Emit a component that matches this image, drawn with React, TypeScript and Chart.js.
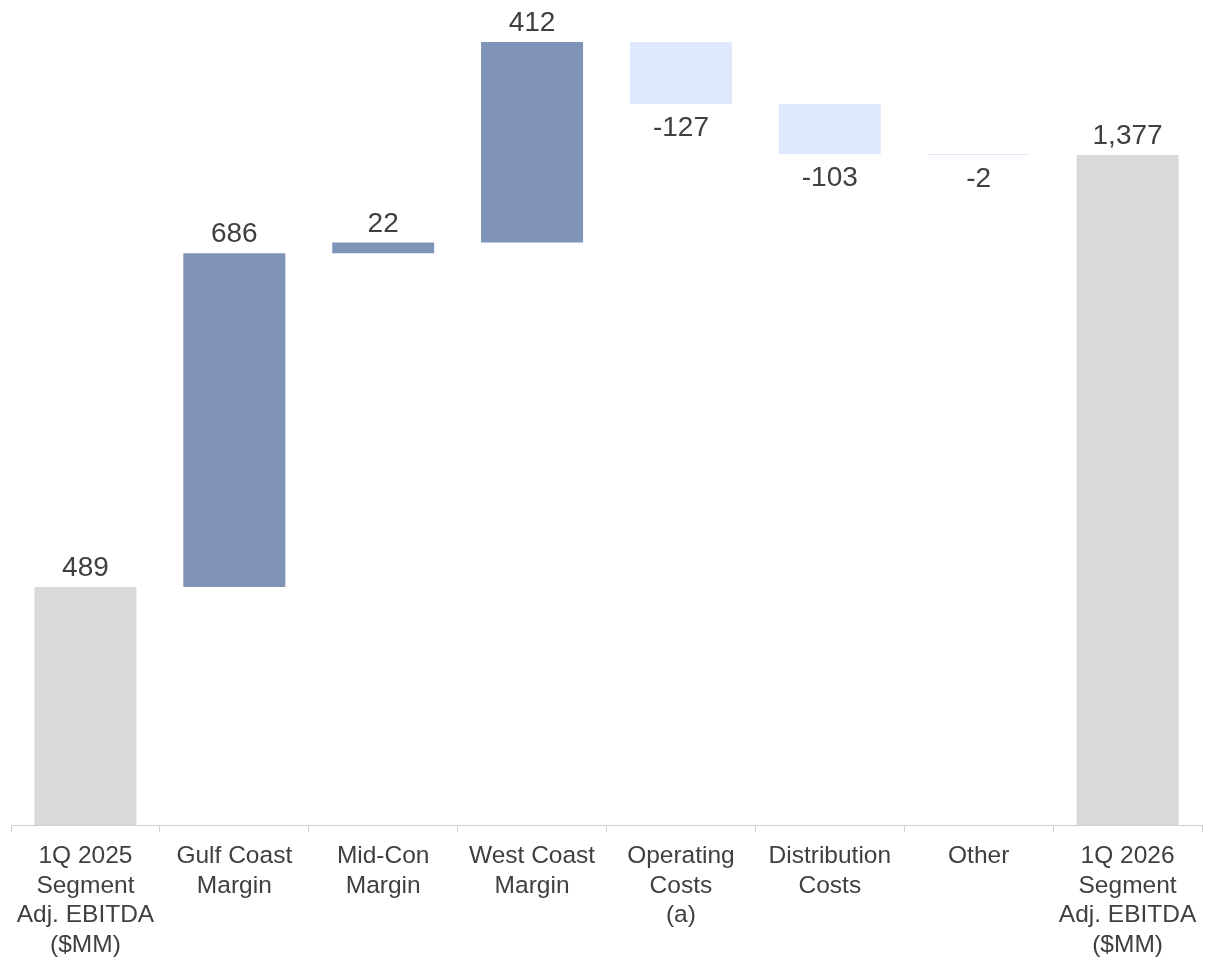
import React, { useEffect, useRef } from "react";
import { Chart, registerables } from "chart.js";

Chart.register(...registerables);

// Waterfall steps: opening total, changes, closing total
const categories: string[][] = [
  ["1Q 2025", "Segment", "Adj. EBITDA", "($MM)"],
  ["Gulf Coast", "Margin"],
  ["Mid-Con", "Margin"],
  ["West Coast", "Margin"],
  ["Operating", "Costs", "(a)"],
  ["Distribution", "Costs"],
  ["Other"],
  ["1Q 2026", "Segment", "Adj. EBITDA", "($MM)"],
];
const stepValues: number[] = [489, 686, 22, 412, -127, -103, -2, 1377];
const isTotal: boolean[] = [true, false, false, false, false, false, false, true];

const TOTAL_COLOR = "#d9d9d9";
const UP_COLOR = "#8094b9";
const DOWN_COLOR = "#dfe9fd";
const TEXT_COLOR = "#404040";
const FONT = "'Liberation Sans', Arial, Helvetica, sans-serif";

// Floating [start, end] ranges from running totals
function buildRanges(): [number, number][] {
  let running = 0;
  return stepValues.map((v, i) => {
    if (isTotal[i]) {
      running = v;
      return [0, v] as [number, number];
    }
    const start = running;
    running += v;
    return [start, running] as [number, number];
  });
}

const valueLabels = {
  id: "valueLabels",
  afterDatasetsDraw(chart: Chart) {
    const ctx = chart.ctx;
    const meta = chart.getDatasetMeta(0);
    ctx.save();
    ctx.fillStyle = TEXT_COLOR;
    ctx.font = `28px ${FONT}`;
    ctx.textAlign = "center";
    meta.data.forEach((el: any, i: number) => {
      const v = stepValues[i];
      const top = Math.min(el.y, el.base);
      const bottom = Math.max(el.y, el.base);
      const text = v.toLocaleString("en-US");
      if (v >= 0) {
        ctx.textBaseline = "alphabetic";
        ctx.fillText(text, el.x, top - 11);
      } else {
        ctx.textBaseline = "top";
        ctx.fillText(text, el.x, bottom + 10);
      }
    });
    ctx.restore();
  },
};

export default function App() {
  const canvasRef = useRef<HTMLCanvasElement | null>(null);

  useEffect(() => {
    if (!canvasRef.current) return;
    const ranges = buildRanges();
    const colors = stepValues.map((v, i) =>
      isTotal[i] ? TOTAL_COLOR : v >= 0 ? UP_COLOR : DOWN_COLOR
    );
    const chart = new Chart(canvasRef.current, {
      type: "bar",
      data: {
        labels: categories,
        datasets: [
          {
            data: ranges as any,
            backgroundColor: colors,
            borderWidth: 0,
            categoryPercentage: 1,
            barPercentage: 0.685,
          },
        ],
      },
      options: {
        animation: false,
        responsive: true,
        maintainAspectRatio: false,
        layout: { padding: { top: 10, left: 11, right: 7, bottom: 0 } },
        plugins: {
          legend: { display: false },
          tooltip: { enabled: false },
        },
        scales: {
          x: {
            afterFit(scale: any) {
              scale.height = 132;
            },
            grid: {
              drawOnChartArea: false,
              drawTicks: true,
              tickLength: 7,
              color: "#d0d0d0",
              lineWidth: 1,
            },
            border: { color: "#d0d0d0", width: 1 },
            ticks: {
              color: TEXT_COLOR,
              padding: 10,
              maxRotation: 0,
              autoSkip: false,
              font: { family: FONT, size: 24.5, lineHeight: 1.2 },
            },
          },
          y: {
            display: false,
            min: 0,
            max: 1675,
          },
        },
      },
      plugins: [valueLabels],
    });
    return () => chart.destroy();
  }, []);

  return (
    <div
      style={{
        position: "fixed",
        left: 0,
        top: 0,
        width: 1209,
        height: 957,
        background: "#ffffff",
      }}
    >
      <canvas ref={canvasRef} />
    </div>
  );
}
